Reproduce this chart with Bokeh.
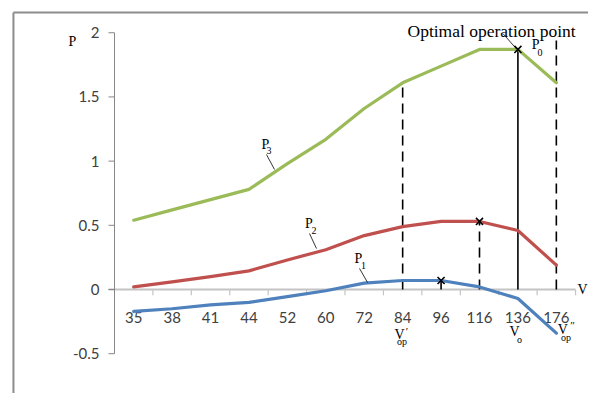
from bokeh.plotting import figure
from bokeh.models import Range1d
from bokeh.core.properties import value
from bokeh.embed import file_html
from bokeh.resources import INLINE

# ---- data -------------------------------------------------------------
categories = ["35", "38", "41", "44", "52", "60", "72", "84", "96", "116", "136", "176"]
p1_vals = [-0.17, -0.15, -0.12, -0.10, -0.055, -0.01, 0.05, 0.07, 0.07, 0.02, -0.07, -0.34]
p2_vals = [0.02, 0.06, 0.10, 0.145, 0.23, 0.31, 0.42, 0.49, 0.53, 0.53, 0.46, 0.19]
p3_vals = [0.54, 0.62, 0.70, 0.78, 0.98, 1.17, 1.41, 1.61, 1.74, 1.87, 1.87, 1.61]
y_ticks = [-0.5, 0, 0.5, 1, 1.5, 2]
y_tick_labels = ["-0.5", "0", "0.5", "1", "1.5", "2"]

marker_cats = ["96", "116", "136"]
marker_vals = [p1_vals[8], p2_vals[9], p3_vals[10]]
dashed_cats = ["84", "116", "176"]
dashed_tops = [p3_vals[7], p2_vals[9], 1.94]
solid_cats = ["96", "136"]
solid_tops = [p1_vals[8], p3_vals[10]]

# ---- helpers ------------------------------------------------------------
pos = {c: i + 0.5 for i, c in enumerate(categories)}
xs = [pos[c] for c in categories]
n = len(categories)

GREEN = "#9BBB59"
RED = "#C0504D"
BLUE = "#4F81BD"
AXIS = "#868686"
XAXIS = "#c4c4c4"
LABEL = "#404040"
SERIF = value("Liberation Serif")

W, H = 588, 393
# plot frame covers the whole canvas; data ranges chosen so the chart area sits inside
p = figure(width=W, height=H, output_backend="svg", toolbar_location=None,
           x_range=Range1d(-2.967, 12.337), y_range=Range1d(-0.810, 2.251),
           x_axis_location=None, y_axis_location=None,
           min_border=0, min_border_left=0, min_border_right=0,
           min_border_top=0, min_border_bottom=0)
p.outline_line_color = None
p.grid.visible = False
p.background_fill_color = "white"
p.border_fill_color = "white"

# outer frame (left and top edges)
p.segment(x0=[-2.63, -2.63], y0=[2.157, 2.157], x1=[-2.63, 12.4], y1=[-0.9, 2.157],
          line_color="#8c8c8c", line_width=2)

# horizontal category axis at y = 0
p.segment(x0=[-0.156], y0=[0], x1=[n], y1=[0], line_color=XAXIS, line_width=2)
p.segment(x0=list(range(1, n + 1)), y0=[0] * n, x1=list(range(1, n + 1)),
          y1=[-0.045] * n, line_color=XAXIS, line_width=1.2)
p.text(x=xs, y=[-0.218] * n, text=categories, text_font=value("Lato"),
       text_font_size="15px", text_color=LABEL, text_align="center",
       text_baseline="middle")

# vertical value axis at category origin
ny = len(y_ticks)
p.segment(x0=[0], y0=[y_ticks[0]], x1=[0], y1=[y_ticks[-1]], line_color=AXIS, line_width=1)
p.segment(x0=[0] * ny, y0=y_ticks, x1=[-0.156] * ny, y1=y_ticks, line_color=AXIS, line_width=1)
p.text(x=[-0.39] * ny, y=y_ticks, text=y_tick_labels, text_font=value("Lato"),
       text_font_size="15px", text_color=LABEL, text_align="right",
       text_baseline="middle")

# vertical guide lines
p.segment(x0=[pos[c] for c in dashed_cats], y0=[0] * len(dashed_cats),
          x1=[pos[c] for c in dashed_cats], y1=dashed_tops,
          line_color="black", line_width=1.6, line_dash="10 6")
p.segment(x0=[pos[c] for c in solid_cats], y0=[0] * len(solid_cats),
          x1=[pos[c] for c in solid_cats], y1=solid_tops,
          line_color="black", line_width=1.6)

# series
for vals, col in ((p3_vals, GREEN), (p2_vals, RED), (p1_vals, BLUE)):
    p.line(xs, vals, line_color=col, line_width=3.2, line_join="round", line_cap="round")

p.scatter([pos[c] for c in marker_cats], marker_vals, marker="x", size=10,
          line_color="black", line_width=1.6)

# leader lines
p.segment(x0=[10.12, 3.956, 5.075, 6.377], y0=[1.99, 1.051, 0.436, 0.164],
          x1=[10.46, 4.164, 5.258, 6.585], y1=[1.875, 0.935, 0.319, 0.055],
          line_color="black", line_width=0.8)


def lab(x, y, text, size, align="center"):
    p.text(x=[x], y=[y], text=[text], text_font=SERIF, text_font_size=size,
           text_color="black", text_align=align, text_baseline="middle")


lab(-1.093, 1.931, "P", "14px")
lab(12.18, 0.0, "V", "14px")
lab(7.626, 2.017, "Optimal operation point", "17.5px", "left")
lab(10.96, 1.908, "P", "14px")
lab(11.075, 1.846, "0", "10px")
lab(3.93, 1.129, "P", "14px")
lab(4.02, 1.083, "3", "10px")
lab(5.06, 0.514, "P", "14px")
lab(5.19, 0.459, "2", "10px")
lab(6.35, 0.241, "P", "14px")
lab(6.48, 0.187, "1", "10px")
lab(7.418, -0.354, "V", "14px")
lab(7.613, -0.327, "\u2032", "11px")
lab(7.483, -0.405, "op", "10px")
lab(10.41, -0.327, "V", "14px")
lab(10.54, -0.393, "o", "10px")
lab(11.67, -0.308, "V", "14px")
lab(11.92, -0.280, "\u2033", "11px")
lab(11.75, -0.370, "op", "10px")

open("out.html", "w").write(file_html(p, INLINE))
